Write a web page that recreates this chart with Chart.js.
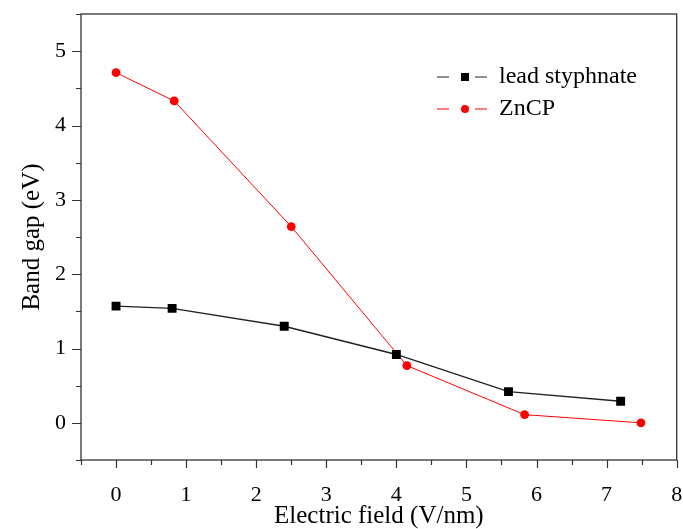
<!DOCTYPE html>
<html>
<head>
<meta charset="utf-8">
<script src="https://cdn.jsdelivr.net/npm/chart.js@4/dist/chart.umd.min.js"></script>
<style>
  html, body { margin: 0; padding: 0; background: #fff; }
  #wrap { width: 683px; height: 529px; }
</style>
</head>
<body>
<div id="wrap"><canvas id="bandgap"></canvas></div>
<script>
// Band gap vs applied field
const leadField = [0, 0.8, 2.4, 4.0, 5.6, 7.2];
const leadGap   = [1.57, 1.54, 1.30, 0.92, 0.42, 0.29];
const zncpField = [0, 0.83, 2.5, 4.15, 5.83, 7.49];
const zncpGap   = [4.71, 4.33, 2.64, 0.77, 0.11, 0.0];
const seriesNames = ['lead styphnate', 'ZnCP'];

const serif = '"Liberation Serif", "Times New Roman", serif';
const axisColor = '#333';

const toPoints = (xs, ys) => xs.map((x, i) => ({ x, y: ys[i] }));

// scales should not push the plot area in for their edge labels
const noEdgePadding = s => {
  s.paddingLeft = s.paddingRight = s.paddingTop = s.paddingBottom = 0;
};

// frame around the plot plus major/minor tick marks
const frameTicks = {
  id: 'frameTicks',
  afterDraw(chart) {
    const { ctx, chartArea: a, scales } = chart;
    ctx.save();
    ctx.strokeStyle = axisColor;
    ctx.lineWidth = 1.3;
    ctx.strokeRect(a.left, a.top, a.right - a.left, a.bottom - a.top);
    ctx.lineWidth = 1.2;
    ctx.beginPath();
    scales.x.ticks.forEach(t => {
      const px = Math.round(scales.x.getPixelForValue(t.value)) + 0.5;
      const len = Number.isInteger(t.value) ? 8 : 5;
      ctx.moveTo(px, a.bottom);
      ctx.lineTo(px, a.bottom + len);
    });
    scales.y.ticks.forEach(t => {
      const py = Math.round(scales.y.getPixelForValue(t.value)) + 0.5;
      const len = Number.isInteger(t.value) ? 9 : 5;
      ctx.moveTo(a.left, py);
      ctx.lineTo(a.left - len, py);
    });
    ctx.stroke();
    ctx.restore();
  }
};

// legend in the upper right of the plot: line - marker - line, then name
const insideLegend = {
  id: 'insideLegend',
  afterDraw(chart) {
    const { ctx } = chart;
    const x0 = 437, y0 = 77, rowGap = 32;
    ctx.save();
    chart.data.datasets.forEach((ds, i) => {
      const y = y0 + i * rowGap;
      ctx.strokeStyle = ds.borderColor;
      ctx.lineWidth = 1.2;
      ctx.beginPath();
      ctx.moveTo(x0, y); ctx.lineTo(x0 + 12, y);
      ctx.moveTo(x0 + 38, y); ctx.lineTo(x0 + 50, y);
      ctx.stroke();
      ctx.fillStyle = ds.pointBackgroundColor;
      const cx = x0 + 28;
      if (ds.pointStyle === 'rect') {
        ctx.fillRect(cx - 4, y - 4, 8, 8);
      } else {
        ctx.beginPath();
        ctx.arc(cx, y, 4, 0, Math.PI * 2);
        ctx.fill();
      }
      ctx.fillStyle = '#000';
      ctx.font = '24px ' + serif;
      ctx.textBaseline = 'middle';
      ctx.fillText(ds.label, x0 + 62, y);
    });
    ctx.restore();
  }
};

new Chart(document.getElementById('bandgap'), {
  type: 'line',
  data: {
    datasets: [
      {
        label: seriesNames[0],
        data: toPoints(leadField, leadGap),
        borderColor: '#222',
        borderWidth: 1.4,
        pointStyle: 'rect',
        pointRadius: 6.3,
        pointBackgroundColor: '#000',
        pointBorderWidth: 0,
        tension: 0
      },
      {
        label: seriesNames[1],
        data: toPoints(zncpField, zncpGap),
        borderColor: '#ff0000',
        borderWidth: 1,
        pointStyle: 'circle',
        pointRadius: 4.4,
        pointBackgroundColor: '#ff0000',
        pointBorderWidth: 0,
        tension: 0
      }
    ]
  },
  options: {
    responsive: true,
    maintainAspectRatio: false,
    animation: false,
    layout: { padding: { top: 14, right: 3, left: 0, bottom: 0 } },
    plugins: {
      legend: { display: false },
      tooltip: { enabled: false }
    },
    scales: {
      x: {
        type: 'linear',
        min: -0.5,
        max: 8,
        afterFit: s => { s.height = 69; noEdgePadding(s); },
        grid: { display: false },
        border: { display: false },
        ticks: {
          stepSize: 0.5,
          padding: 14,
          color: '#000',
          font: { family: serif, size: 22 },
          maxRotation: 0,
          autoSkip: false,
          callback: v => Number.isInteger(v) && v >= 0 ? String(v) : ''
        },
        title: {
          display: true,
          text: 'Electric field (V/nm)',
          color: '#000',
          font: { family: serif, size: 25, lineHeight: 1 },
          padding: { top: 0, bottom: 0 }
        }
      },
      y: {
        min: -0.5,
        max: 5.5,
        afterFit: s => { s.width = 81; noEdgePadding(s); },
        grid: { display: false },
        border: { display: false },
        ticks: {
          stepSize: 0.5,
          padding: 7,
          color: '#000',
          font: { family: serif, size: 22 },
          autoSkip: false,
          callback: v => Number.isInteger(v) && v >= 0 && v <= 5 ? String(v) : ''
        },
        title: {
          display: true,
          text: 'Band gap (eV)',
          color: '#000',
          font: { family: serif, size: 25, lineHeight: 1 },
          padding: { top: 20, bottom: 0 }
        }
      }
    }
  },
  plugins: [frameTicks, insideLegend]
});
</script>
</body>
</html>
